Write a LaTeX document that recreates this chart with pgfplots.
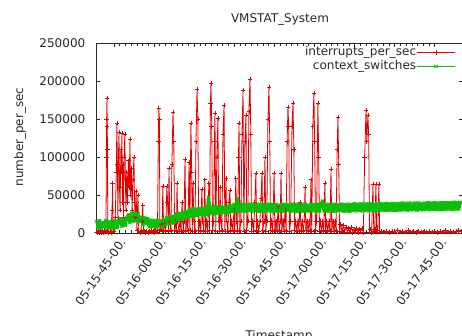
\documentclass[border=0pt]{standalone}
\usepackage{pgfplots}
\pgfplotsset{compat=1.18}
\usepackage{pgfplotstable}
\usepackage{fontspec}
\setmainfont{DejaVu Sans}
\definecolor{gred}{RGB}{228,0,0}
\definecolor{ggreen}{RGB}{10,190,10}
\definecolor{axgray}{RGB}{40,40,40}

% interrupts_per_sec : minutes after 05-15-00-00, value
\pgfplotstableread{
m v
38.4 1500
38.8 500
39.2 2500
39.6 800
40.0 2000
40.4 600
40.8 2500
41.2 1000
41.6 3000
42.0 1200
42.2 100000
42.3 150000
42.4 177600
42.5 140000
42.6 110000
42.7 2000
43.1 800
43.5 2500
43.9 1000
44.3 30000
44.5 65800
44.7 1500
45.1 2500
45.5 20000
45.9 80000
46.1 144700
46.3 90000
46.5 20000
46.7 100000
46.9 133000
47.1 60000
47.3 30000
47.6 110000
47.8 80000
48.0 131600
48.2 40000
48.4 90000
48.6 20000
48.8 100000
49.1 130000
49.3 70000
49.5 30000
49.8 80000
50.1 40000
50.4 95000
50.7 60000
51.0 123700
51.2 50000
51.5 85000
51.8 30000
52.1 70000
52.5 100000
52.7 40000
53.0 20000
53.3 55000
53.6 3000
54.0 50000
54.3 2000
54.7 1000
55.1 2500
55.5 15000
55.8 37000
56.1 1500
56.5 2500
56.9 800
57.3 2000
57.7 1000
58.1 2500
58.5 1200
58.9 3000
59.3 1500
59.7 2500
60.1 1000
60.5 3000
60.9 1500
61.3 4000
61.6 120000
61.8 164500
62.0 150000
62.2 5000
62.6 12000
63.0 2000
63.3 62000
63.6 3000
64.0 13000
64.4 2500
64.8 62000
65.1 40000
65.4 3000
65.6 85500
65.9 14000
66.3 2000
66.7 90000
67.1 159000
67.4 120000
67.7 3000
68.1 15000
68.4 2000
68.6 65800
68.9 15000
69.3 2000
69.7 16000
70.1 2500
70.5 40000
70.9 3000
71.2 15000
71.6 97000
71.9 2000
72.3 16000
72.7 3000
73.1 93000
73.4 3000
73.8 144700
74.1 80000
74.3 2500
74.6 65800
74.9 15000
75.3 2000
75.7 120000
76.1 189500
76.4 150000
76.7 3000
77.1 16000
77.5 2000
77.9 58000
78.2 15000
78.6 3000
79.0 70000
79.3 2000
79.7 16000
80.1 2500
80.5 65800
80.8 3000
81.1 170000
81.3 197000
81.6 140000
81.9 3000
82.3 15000
82.6 120000
82.8 158000
83.1 2500
83.5 100000
83.9 151000
84.2 16000
84.5 2000
84.7 60500
85.0 15000
85.4 3000
85.8 130000
86.2 168000
86.5 2500
86.9 72000
87.2 16000
87.6 2000
88.0 40000
88.4 56600
88.7 3000
89.1 16000
89.5 2500
89.9 30000
90.2 3000
90.6 72000
90.9 15000
91.3 2000
91.6 100000
91.8 144700
92.1 3000
92.5 16000
92.9 130000
93.3 188000
93.6 2500
94.0 120000
94.4 155000
94.7 3000
95.1 16000
95.5 160000
95.9 202600
96.2 130000
96.5 2000
96.9 16000
97.3 2500
97.7 40000
98.1 79000
98.4 3000
98.8 15000
99.2 2000
99.6 16000
100.0 45000
100.4 79000
100.7 3000
101.1 15000
101.5 100000
101.8 2500
102.2 16000
102.6 150000
103.0 192000
103.3 120000
103.6 3000
104.0 16000
104.4 2000
104.9 79000
105.2 3000
105.6 15000
106.0 2500
106.4 35000
106.8 3000
107.2 15000
107.5 79000
107.8 2000
108.2 16000
108.6 2500
109.0 30000
109.4 3000
109.8 120000
110.1 166000
110.4 140000
110.7 2500
111.1 15000
111.6 140000
112.0 171000
112.3 110000
112.6 3000
113.0 16000
113.4 2000
113.8 16000
114.2 2500
114.6 40000
115.0 3000
115.4 15000
115.8 2000
116.2 16000
116.5 60500
116.8 3000
117.2 15000
117.6 2500
118.0 16000
118.4 3000
118.7 70000
119.0 2000
119.4 140000
119.8 184000
120.1 120000
120.4 3000
120.8 15000
121.3 171000
121.6 100000
121.9 2500
122.3 16000
122.7 2000
123.1 15000
123.5 3000
123.9 65800
124.2 2500
124.6 16000
125.0 2000
125.4 15000
125.8 3000
126.2 84000
126.5 2000
126.9 15000
127.3 2500
127.7 16000
128.1 3000
128.5 110000
128.8 152600
129.1 90000
129.4 2000
129.8 12000
130.3 1500
130.8 10000
131.3 1500
131.8 8000
132.3 1200
132.8 6000
133.3 1500
133.8 7000
134.3 1000
134.8 5000
135.3 1500
135.8 6000
136.3 1000
136.8 5000
137.3 1500
137.8 6000
138.3 1000
138.8 100000
139.3 162000
139.6 120000
140.0 155000
140.3 130000
140.6 1500
141.0 5000
141.4 1000
141.9 64500
142.2 2000
142.6 5000
143.0 64500
143.3 1500
143.7 4000
144.1 64500
144.4 1500
145.0 2500
146.0 1200
147.0 2000
148.0 1000
149.0 2500
150.0 1500
151.0 4000
152.0 1500
153.0 2500
154.0 1200
155.0 3000
156.0 1500
157.0 2500
158.0 1000
159.0 2000
160.0 1500
161.0 2500
162.0 1200
163.0 2000
164.0 1500
165.0 2500
166.0 1000
167.0 2000
168.0 1500
169.0 3000
170.0 1200
171.0 2500
172.0 1500
173.0 2000
174.0 3500
175.0 2500
}\redtab

% context_switches : sampled every 0.6 min from minute 38.4
\pgfplotstableread{
v
15000
7000
16000
6000
14000
8000
16500
6500
15000
7500
16000
6000
15500
7000
16000
19000
9000
18000
10000
19500
24000
14000
26000
15000
27000
16000
25000
15000
21000
11000
20000
12000
19000
8000
17000
8500
16500
7500
17000
9000
16000
8000
17500
11000
20000
12000
21000
13000
22000
14000
25000
17000
26000
18000
27000
19000
28000
20000
31000
22000
32000
23000
31500
23000
32500
24000
32000
23500
33000
24000
47000
26000
34000
25000
35000
26000
34500
26000
35000
27000
34000
26500
35500
27000
36000
28500
37500
29000
45000
28000
37000
29000
38000
28500
37500
29500
38000
28500
37000
29000
37500
28500
38000
29000
37500
28000
37000
29000
38000
28500
37500
29000
38000
28500
37000
29000
38000
28500
37500
29500
37000
28500
38000
29000
37500
28000
38000
29000
37500
28500
38000
29000
37000
28500
38000
29500
37500
28500
38000
29000
37500
42000
29000
37500
28500
38000
29000
37500
28500
38000
29000
37000
29500
38000
28500
37500
29000
38000
28500
37500
29500
38500
29000
38000
29500
38500
29000
38000
29500
38500
29000
38500
29500
38000
29000
38500
29500
39000
30000
38500
29500
39000
30000
38500
30000
39000
29500
38500
30000
39000
30000
39500
30500
39000
30000
39500
30500
39000
30500
39500
30000
39500
30500
39000
30500
39500
31000
40000
30500
39500
31000
40000
31000
39500
30500
40000
31000
40000
31000
40000
31500
40000
31000
40500
31500
40000
31500
40500
}\greentab

\begin{document}
\begin{tikzpicture}
\path[use as bounding box] (0pt,0pt) rectangle (346.5pt,252pt);
\begin{scope}
\clip (0pt,0pt) rectangle (346.5pt,252pt);
\begin{axis}[
  at={(72pt,77.25pt)}, anchor=south west,
  scale only axis, width=275.5pt, height=142.5pt,
  xmin=38.3, xmax=175.7, ymin=0, ymax=250000,
  axis line style={axgray, line width=0.5pt},
  every tick/.style={axgray, line width=0.4pt},
  tick align=inside,
  major tick length=3pt, minor tick length=2pt,
  xtick={45,60,75,90,105,120,135,150,165},
  xticklabels={05-15-45-00.,05-16-00-00.,05-16-15-00.,05-16-30-00.,05-16-45-00.,05-17-00-00.,05-17-15-00.,05-17-30-00.,05-17-45-00.},
  minor x tick num=6,
  ytick={0,50000,100000,150000,200000,250000},
  scaled y ticks=false,
  /pgf/number format/assume math mode=true,
  /pgf/number format/fixed,
  /pgf/number format/1000 sep={},
  yticklabel style={font=\fontsize{9}{10}\selectfont, text=axgray, xshift=-4.5pt},
  xticklabel style={font=\fontsize{9}{10}\selectfont, text=axgray, rotate=55, anchor=east, yshift=-8.5pt, xshift=3pt},
  legend style={draw=none, fill=none, at={(1,1)}, anchor=north east, xshift=-6pt, yshift=-2pt,
     font=\fontsize{9}{10}\selectfont, text=axgray, inner sep=0pt, row sep=0pt,
     nodes={inner sep=0.6pt, text height=6.8pt, text depth=2.2pt}},
  legend cell align=right,
  legend plot pos=right,
  legend image code/.code={\draw[mark repeat=2,mark phase=2,#1] plot coordinates {(0pt,0pt) (14pt,0pt) (28pt,0pt)};},
]
\addplot[gred, line width=0.6pt, mark=+, mark size=1.7pt, mark options={line width=0.5pt}] table[x=m, y=v] {\redtab};
\addlegendentry{interrupts\_per\_sec}
\addplot[ggreen, line width=2.4pt, line join=round, line cap=round, mark=x, mark size=1.6pt, mark options={line width=0.6pt}, legend image post style={line width=0.5pt}] table[x expr=38.4+0.6*\coordindex, y=v] {\greentab};
\addlegendentry{context\_switches}
\end{axis}
\end{scope}
\node[font=\fontsize{9}{10}\selectfont, text=axgray] at (210pt,237.75pt) {VMSTAT\_System};
\node[font=\fontsize{9}{10}\selectfont, text=axgray, rotate=90] at (15pt,149.25pt) {number\_per\_sec};
\node[font=\fontsize{9}{10}\selectfont, text=axgray, anchor=north, inner sep=0pt] at (209.25pt,4.5pt) {Timestamp};
\end{tikzpicture}
\end{document}
